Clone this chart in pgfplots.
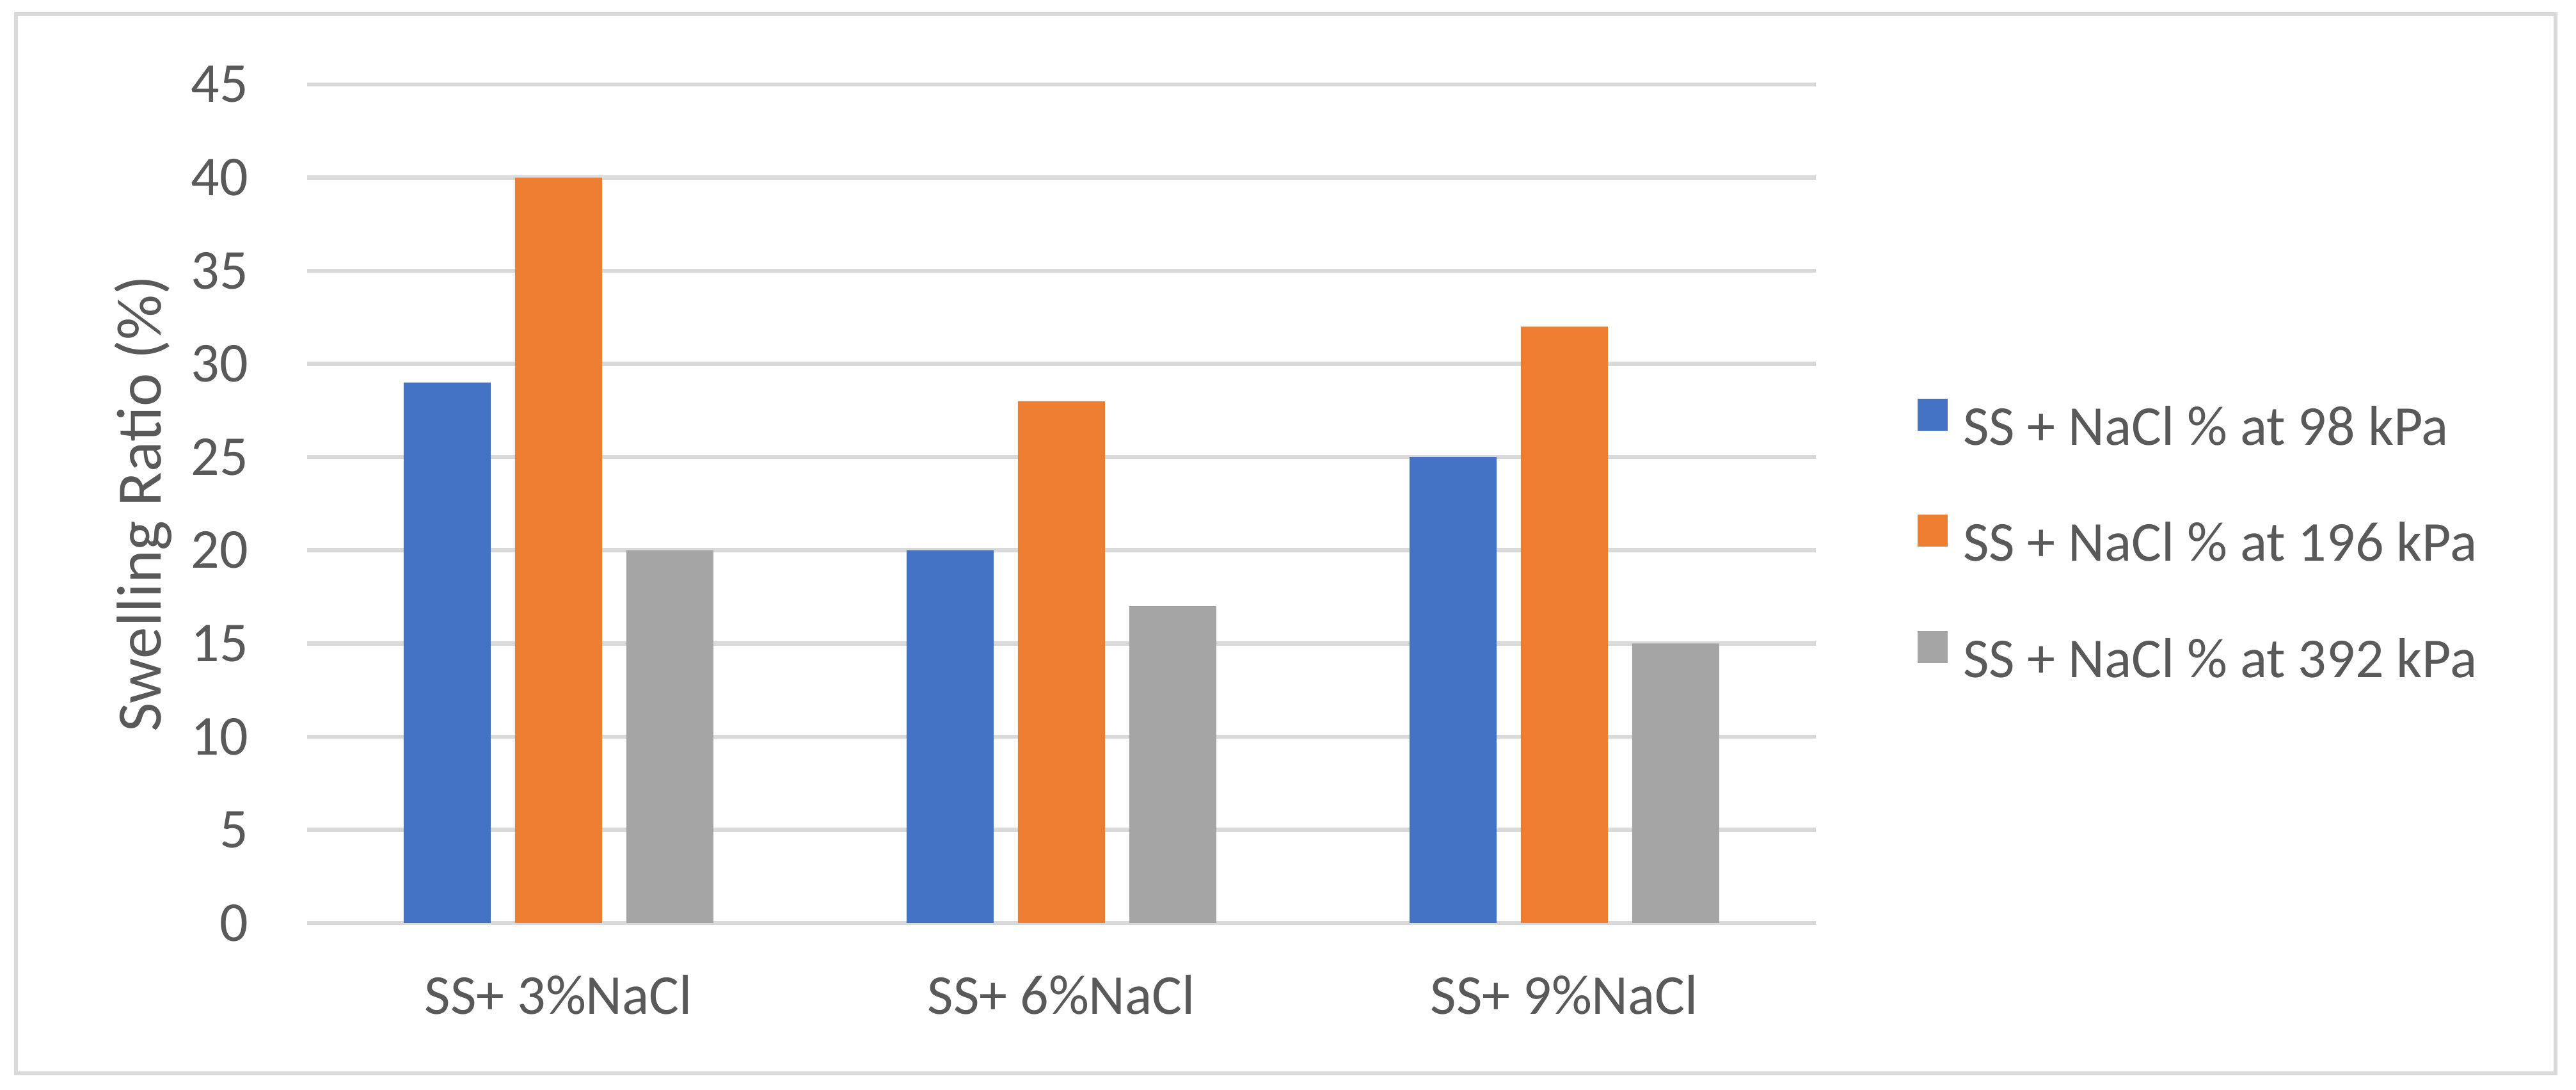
\documentclass[border=0pt]{standalone}
\usepackage{fontspec}
\setmainfont{Carlito}
\usepackage{pgfplots}
\pgfplotsset{compat=1.18}
\definecolor{cblue}{HTML}{4472C4}
\definecolor{corange}{HTML}{ED7D31}
\definecolor{cgray}{HTML}{A5A5A5}
\definecolor{gridgray}{HTML}{D9D9D9}
\definecolor{textgray}{HTML}{595959}
\begin{document}
\begin{tikzpicture}
\useasboundingbox (0,0) rectangle (402.6pt,170.3pt);
\draw[draw=gridgray, line width=0.6pt] (2.5pt,2.6pt) rectangle (399.4pt,168.1pt);
\begin{axis}[
  at={(48pt,26.1pt)}, anchor=south west,
  scale only axis, width=235.8pt, height=131pt,
  xmin=-0.5, xmax=2.5, ymin=0, ymax=45,
  ytick={0,5,...,45},
  xtick={0,1,2},
  xticklabels={SS+ 3\%NaCl, SS+ 6\%NaCl, SS+ 9\%NaCl},
  axis x line=bottom, axis y line=left,
  axis line style={-},
  x axis line style={draw=gridgray, line width=0.65pt},
  y axis line style={draw=none},
  major tick length=0pt,
  ymajorgrids, grid style={draw=gridgray, line width=0.65pt},
  /pgf/number format/assume math mode=true,
  tick label style={font=\fontsize{8.8}{10}\selectfont, text=textgray},
  yticklabel style={anchor=east, inner sep=0pt, xshift=-9pt},
  xticklabel style={anchor=base, inner sep=0pt, yshift=-14.3pt},
  ylabel={Swelling Ratio (\%)},
  ylabel style={at={(axis description cs:-0.1086,0.5)}, anchor=center, font=\fontsize{9.9}{12}\selectfont, text=textgray},
  ybar=3.8pt, bar width=13.6pt,
  legend image code/.code={\fill[#1] (0pt,0pt) rectangle (4.7pt,5pt);},
  legend style={at={(axis description cs:1.0666,0.4534)}, anchor=west, draw=none, fill=none, inner sep=0pt, row sep=9.4pt, column sep=2.4pt,
    nodes={inner sep=0pt, text height=6pt, text depth=1.5pt, font=\fontsize{8.8}{10}\selectfont, text=textgray}},
  legend cell align=left,
]
\addplot[fill=cblue, draw=none] coordinates {(0,29) (1,20) (2,25)};
\addplot[fill=corange, draw=none] coordinates {(0,40) (1,28) (2,32)};
\addplot[fill=cgray, draw=none] coordinates {(0,20) (1,17) (2,15)};
\legend{SS + NaCl \% at 98 kPa, SS + NaCl \% at 196 kPa, SS + NaCl \% at 392 kPa}
\end{axis}
\end{tikzpicture}
\end{document}
